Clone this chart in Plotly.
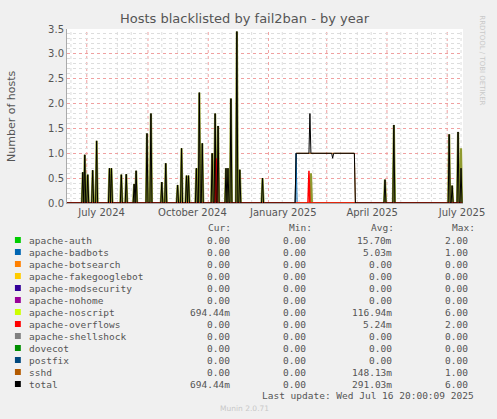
import plotly.graph_objects as go
import pandas as pd

# ---- data ----
total_dates = ["2024-06-27","2024-06-29","2024-07-02","2024-07-07","2024-07-11","2024-07-24","2024-07-26",
               "2024-08-05","2024-08-10","2024-08-18","2024-08-20","2024-08-31","2024-09-04","2024-09-15",
               "2024-09-19","2024-10-01","2024-10-05","2024-10-10","2024-10-12","2024-10-20","2024-10-23",
               "2024-10-26","2024-11-05","2024-11-08","2024-11-11","2024-11-19","2024-11-21","2024-11-24",
               "2024-11-30","2024-12-03","2024-12-26","2025-04-29","2025-05-08","2025-07-03","2025-07-06",
               "2025-07-12","2025-07-15"]
total_vals = [0.62,0.97,0.57,0.66,1.25,0.7,0.7,0.57,0.58,0.38,0.65,1.4,1.8,0.42,0.8,0.36,1.1,0.55,0.55,0.7,2.22,
              1.2,1.0,1.8,1.55,0.7,0.7,2.1,3.45,0.67,0.5,0.47,1.57,1.38,0.35,1.43,0.7]
sshd_start, sshd_end = "2025-01-29", "2025-03-29"
total_extra_dates = ["2025-02-12","2025-03-07"]
total_extra_vals = [1.8, 0.9]
overflow_dates = ["2024-11-09","2025-02-11"]
overflow_vals = [0.9, 0.65]
noscript_extra_dates = ["2025-02-13","2025-07-15"]
noscript_extra_vals = [0.6, 0.4]
badbots_dates = ["2025-01-29"]
badbots_vals = [1.0]
auth_dates = ["2025-05-08"]
auth_vals = [1.0]

legend_names = ["apache-auth","apache-badbots","apache-botsearch","apache-fakegooglebot","apache-modsecurity",
                "apache-nohome","apache-noscript","apache-overflows","apache-shellshock","dovecot","postfix","sshd","total"]
legend_colors = ["#00cc00","#0066b3","#ff8000","#ffcc00","#330099","#990099","#ccff00","#ff0000","#808080",
                 "#008f00","#00487d","#b35a00","#000000"]
cur = ["0.00"]*6 + ["694.44m"] + ["0.00"]*5 + ["694.44m"]
mn = ["0.00"]*13
avg = ["15.70m","5.03m","0.00","0.00","0.00","0.00","116.94m","5.24m","0.00","0.00","0.00","148.13m","291.03m"]
mx = ["2.00","1.00","0.00","0.00","0.00","0.00","6.00","2.00","0.00","0.00","0.00","1.00","6.00"]

days = pd.date_range("2024-06-11", "2025-07-16", freq="D")

def series(dates, vals):
    s = pd.Series(0.0, index=days)
    for d, v in zip(dates, vals):
        s[pd.Timestamp(d)] = v
    return s

sshd = pd.Series(0.0, index=days)
sshd[pd.Timestamp(sshd_start):pd.Timestamp(sshd_end)] = 1.0
total = series(total_dates, total_vals) + sshd
for d, v in zip(total_extra_dates, total_extra_vals):
    total[pd.Timestamp(d)] = v
noscript = series(total_dates, total_vals) + series(noscript_extra_dates, noscript_extra_vals)
overflow = series(overflow_dates, overflow_vals)
badbots = series(badbots_dates, badbots_vals)
auth = series(auth_dates, auth_vals)

fig = go.Figure()
def add(s, color, w):
    fig.add_trace(go.Scatter(x=s.index, y=s.values, mode="lines", line=dict(color=color, width=w),
                             showlegend=False, hoverinfo="skip"))
add(sshd, "#b35a00", 1)
add(badbots, "#0066b3", 1)
add(auth, "#00cc00", 1.5)
add(noscript, "#8f9a30", 2.2)
add(overflow, "#ff0000", 1.5)
add(total, "#000000", 1)

L, T, W, H = 67, 29, 403, 174
def px(x, y):
    return (x - L) / W, 1 - (y - T) / H

for d in ["2024-07-01","2024-09-01","2024-11-01","2025-01-01","2025-03-01","2025-05-01","2025-07-01"]:
    fig.add_shape(type="line", x0=d, x1=d, y0=0, y1=1, yref="paper", line=dict(color="#f0a0a0", width=1, dash="dot"), layer="below")
for d in ["2024-06-15","2024-08-01","2024-08-15","2024-09-15","2024-10-01","2024-10-15","2024-11-15","2024-12-01",
          "2024-12-15","2025-01-15","2025-02-01","2025-02-15","2025-03-15","2025-04-01","2025-04-15","2025-05-15",
          "2025-06-01","2025-06-15","2025-07-15"]:
    fig.add_shape(type="line", x0=d, x1=d, y0=0, y1=1, yref="paper", line=dict(color="#dddddd", width=1, dash="dot"), layer="below")

mono = "DejaVu Sans Mono"
ann = []
def text(x, y, t, anchor="left", size=10, color="#555555", family=mono, angle=0):
    xp, yp = px(x, y)
    ann.append(dict(x=xp, y=yp, xref="paper", yref="paper", text=t, showarrow=False, xanchor=anchor,
                    yanchor="middle", font=dict(family=family, size=size, color=color), textangle=angle))

text(248, 19, "Hosts blacklisted by fail2ban - by year", "center", 13, "#555555", "DejaVu Sans")
text(10, 116, "Number of hosts", "center", 11, "#555555", "DejaVu Sans", -90)
text(489, 60, "RRDTOOL / TOBI OETIKER", "center", 7, "#c8c8c8", "DejaVu Sans", 90)
for h, x in [("Cur:", 222), ("Min:", 305), ("Avg:", 388), ("Max:", 470)]:
    text(x, 227, h, "center", 9.5)
for i, n in enumerate(legend_names):
    y = 240 + i * 12
    xp0, yp0 = px(14, y - 3)
    xp1, yp1 = px(20, y + 3)
    fig.add_shape(type="rect", xref="paper", yref="paper", x0=xp0, x1=xp1, y0=yp1, y1=yp0,
                  fillcolor=legend_colors[i], line=dict(width=0))
    text(26, y, n, "left", 9.5)
    text(235, y, cur[i], "right", 9.5)
    text(312, y, mn[i], "right", 9.5)
    text(400, y, avg[i], "right", 9.5)
    text(477, y, mx[i], "right", 9.5)
text(483, 395, "Last update: Wed Jul 16 20:00:09 2025", "right", 9.5)
text(248, 408, "Munin 2.0.71", "center", 7.5, "#c8c8c8", "DejaVu Sans")

fig.update_layout(
    width=497, height=419, margin=dict(l=L, r=497 - L - W, t=T, b=419 - T - H),
    paper_bgcolor="#f0f0f0", plot_bgcolor="#ffffff", annotations=ann, hovermode=False,
    xaxis=dict(type="date", range=["2024-06-11", "2025-07-17"], showgrid=False,
               tickvals=["2024-07-16","2024-10-16","2025-01-16","2025-04-16","2025-07-16"],
               ticktext=["July 2024","October 2024","January 2025","April 2025","July 2025"],
               tickfont=dict(family="DejaVu Sans", size=10, color="#555555"), ticks="",
               showline=True, linecolor="#aaaaaa", zeroline=False),
    yaxis=dict(range=[0, 3.5], dtick=0.5, tickformat=".1f", gridcolor="#f0a0a0", griddash="dot",
               tickfont=dict(family="DejaVu Sans", size=10, color="#555555"), zeroline=False,
               minor=dict(dtick=0.1, showgrid=True, gridcolor="#dddddd", griddash="dot"),
               showline=True, linecolor="#aaaaaa"),
)
fig.write_html("out.html", config={"displayModeBar": False},
               post_script="document.body.style.margin='0';document.body.style.overflow='hidden';")
